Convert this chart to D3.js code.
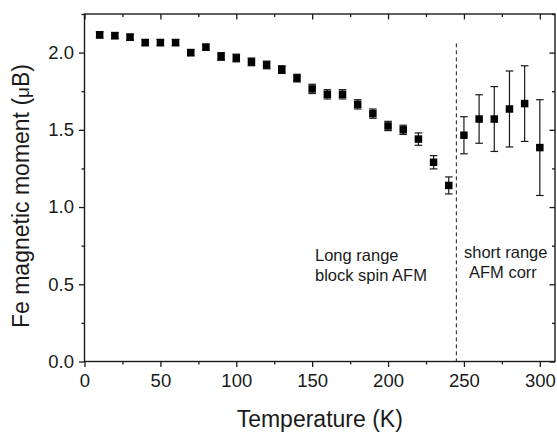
<!DOCTYPE html>
<html>
<head>
<meta charset="utf-8">
<script src="https://cdn.jsdelivr.net/npm/d3@7"></script>
<style>
  html, body { margin: 0; padding: 0; background: #fff; }
  svg { display: block; font-family: "Liberation Sans", Arial, sans-serif; }
</style>
</head>
<body>
<svg id="chart" width="557" height="433"></svg>
<script>
// Data
const temperatures = [10, 20, 30, 40, 50, 60, 70, 80, 90, 100, 110, 120, 130, 140, 150,
  160, 170, 180, 190, 200, 210, 220, 230, 240, 250, 260, 270, 280, 290, 300];
const moments = [2.115, 2.11, 2.10, 2.065, 2.065, 2.065, 2.00, 2.035, 1.975, 1.965, 1.94, 1.92, 1.89, 1.835, 1.765,
  1.73, 1.73, 1.665, 1.605, 1.525, 1.50, 1.44, 1.29, 1.14, 1.465, 1.57, 1.57, 1.635, 1.67, 1.385];
const errors = [0.02, 0.02, 0.02, 0.02, 0.02, 0.02, 0.02, 0.02, 0.025, 0.025, 0.025, 0.025, 0.025, 0.025, 0.03,
  0.03, 0.03, 0.03, 0.03, 0.03, 0.03, 0.04, 0.043, 0.055, 0.12, 0.157, 0.21, 0.246, 0.245, 0.31];
const xTicks = [0, 50, 100, 150, 200, 250, 300];
const yTicks = [0.0, 0.5, 1.0, 1.5, 2.0];
const transitionT = 245;
const dashTop = 2.06;
const annotLeft = ["Long range", "block spin AFM"];
const annotRight = ["short range", "AFM corr"];
const xTitle = "Temperature (K)";

const svg = d3.select("#chart");
const L = 84.5, R = 555, T = 14, B = 361.5;
const x = d3.scaleLinear().domain([0, 310]).range([L, R]);
const y = d3.scaleLinear().domain([0, 2.25]).range([B, T]);
const ink = "#1a1a1a";
const font = "Liberation Sans, Arial, sans-serif";

const minorX = d3.range(0, 311, 25).filter(d => !xTicks.includes(d));
const minorY = d3.range(0, 2.26, 0.25).filter(d => !yTicks.some(t => Math.abs(t - d) < 1e-6));

function styleAxis(g) {
  g.select(".domain").remove();
  g.selectAll(".tick line").attr("stroke", ink).attr("stroke-width", 1.3);
}

// bottom axis (outward)
const gx = svg.append("g").attr("transform", `translate(0,${B})`)
  .call(d3.axisBottom(x).tickValues(xTicks).tickSize(5.5).tickPadding(7).tickFormat(d3.format("d")));
styleAxis(gx);
gx.selectAll("text").attr("font-size", 18.5).attr("fill", ink).attr("font-family", font);
svg.append("g").attr("transform", `translate(0,${B})`)
  .call(d3.axisBottom(x).tickValues(minorX).tickSize(3).tickFormat(""))
  .call(styleAxis);
// top axis (inward)
svg.append("g").attr("transform", `translate(0,${T})`)
  .call(d3.axisBottom(x).tickValues(xTicks).tickSize(5.5).tickFormat(""))
  .call(styleAxis);
svg.append("g").attr("transform", `translate(0,${T})`)
  .call(d3.axisBottom(x).tickValues(minorX).tickSize(3).tickFormat(""))
  .call(styleAxis);

// left axis (outward)
const gy = svg.append("g").attr("transform", `translate(${L},0)`)
  .call(d3.axisLeft(y).tickValues(yTicks).tickSize(5.5).tickPadding(5).tickFormat(d3.format(".1f")));
styleAxis(gy);
gy.selectAll("text").attr("font-size", 18.5).attr("fill", ink).attr("font-family", font);
svg.append("g").attr("transform", `translate(${L},0)`)
  .call(d3.axisLeft(y).tickValues(minorY).tickSize(3).tickFormat(""))
  .call(styleAxis);
// right axis (inward)
svg.append("g").attr("transform", `translate(${R},0)`)
  .call(d3.axisLeft(y).tickValues(yTicks).tickSize(5.5).tickFormat(""))
  .call(styleAxis);
svg.append("g").attr("transform", `translate(${R},0)`)
  .call(d3.axisLeft(y).tickValues(minorY).tickSize(3).tickFormat(""))
  .call(styleAxis);

// frame
svg.append("rect").attr("x", L).attr("y", T).attr("width", R - L).attr("height", B - T)
  .attr("fill", "none").attr("stroke", ink).attr("stroke-width", 1.4);

// dashed transition line
svg.append("line")
  .attr("x1", x(transitionT)).attr("x2", x(transitionT))
  .attr("y1", y(dashTop)).attr("y2", y(0))
  .attr("stroke", ink).attr("stroke-width", 1).attr("stroke-dasharray", "4,3");

// data
const data = temperatures.map((t, i) => ({ t, m: moments[i], e: errors[i] }));
const eb = svg.append("g").attr("stroke", ink).attr("stroke-width", 1.2);
const cap = 3.8;
data.forEach(d => {
  eb.append("line").attr("x1", x(d.t)).attr("x2", x(d.t)).attr("y1", y(d.m - d.e)).attr("y2", y(d.m + d.e));
  eb.append("line").attr("x1", x(d.t) - cap).attr("x2", x(d.t) + cap).attr("y1", y(d.m + d.e)).attr("y2", y(d.m + d.e));
  eb.append("line").attr("x1", x(d.t) - cap).attr("x2", x(d.t) + cap).attr("y1", y(d.m - d.e)).attr("y2", y(d.m - d.e));
});
const sz = 7.5;
svg.append("g").selectAll("rect").data(data).join("rect")
  .attr("x", d => x(d.t) - sz / 2).attr("y", d => y(d.m) - sz / 2)
  .attr("width", sz).attr("height", sz).attr("fill", "#000");

// annotations
const ann = svg.append("g").attr("font-size", 16.5).attr("fill", ink);
annotLeft.forEach((s, i) => {
  ann.append("text").attr("x", 315).attr("y", 261 + i * 20).text(s);
});
const rightX = [464, 469];
annotRight.forEach((s, i) => {
  ann.append("text").attr("x", rightX[i]).attr("y", 258 + i * 20).text(s);
});

// axis titles
svg.append("text").attr("x", (L + R) / 2).attr("y", 427).attr("text-anchor", "middle")
  .attr("font-size", 23).attr("fill", ink).text(xTitle);
const yt = svg.append("text").attr("transform", `translate(29,196) rotate(-90)`)
  .attr("text-anchor", "middle").attr("font-size", 23).attr("fill", ink);
yt.append("tspan").text("Fe magnetic moment (");
yt.append("tspan").attr("font-size", 19).text("μ");
yt.append("tspan").text("B)");
</script>
</body>
</html>
